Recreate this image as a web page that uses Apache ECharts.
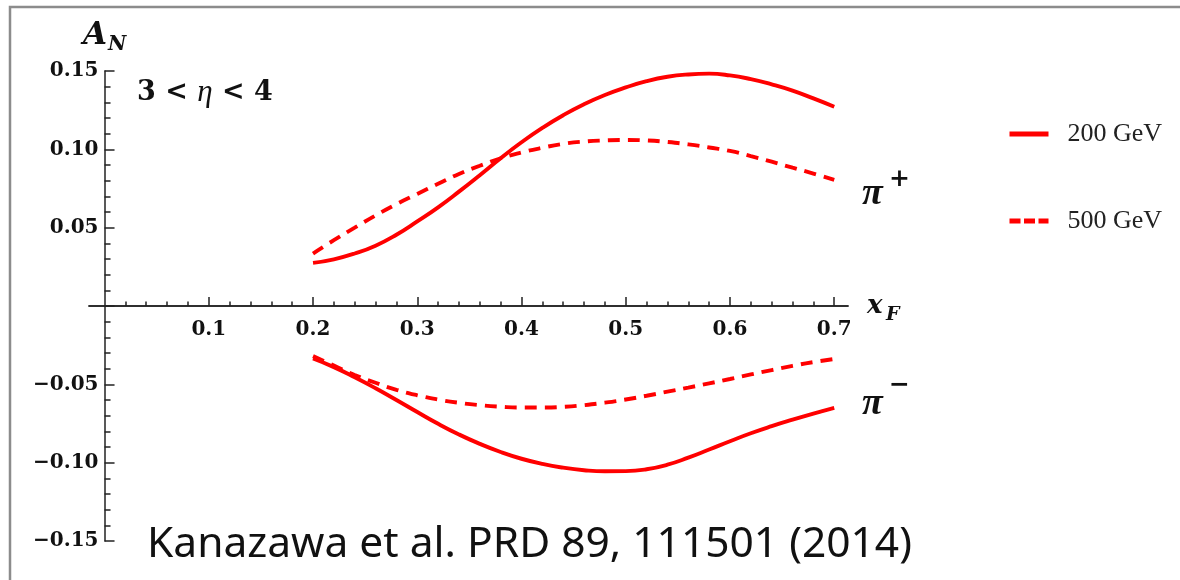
<!DOCTYPE html>
<html>
<head>
<meta charset="utf-8">
<script src="https://cdn.jsdelivr.net/npm/echarts@6/dist/echarts.min.js"></script>
<style>
  html, body { margin: 0; padding: 0; background: #ffffff; }
  #chart { width: 1180px; height: 580px; }
</style>
</head>
<body>
<div id="chart"></div>
<script>
// Feynman-x grid shared by all four curves
const xF = [0.20, 0.22, 0.24, 0.26, 0.28, 0.30, 0.32, 0.34, 0.36, 0.38, 0.40, 0.42, 0.44,
            0.46, 0.48, 0.50, 0.52, 0.54, 0.56, 0.58, 0.60, 0.62, 0.64, 0.66, 0.68, 0.70];

// A_N for pi+ at sqrt(s) = 200 GeV and 500 GeV
const piPlus200 = [0.0275, 0.0298, 0.0335, 0.0385, 0.0455, 0.0540, 0.0630, 0.0730, 0.0835, 0.0943,
                   0.1045, 0.1137, 0.1218, 0.1288, 0.1347, 0.1395, 0.1435, 0.1463, 0.1478, 0.1483,
                   0.1472, 0.1448, 0.1415, 0.1375, 0.1325, 0.1272];
const piPlus500 = [0.0335, 0.0420, 0.0500, 0.0578, 0.0650, 0.0715, 0.0780, 0.0843, 0.0895, 0.0943,
                   0.0980, 0.1010, 0.1035, 0.1050, 0.1057, 0.1060, 0.1057, 0.1047, 0.1032, 0.1012,
                   0.0990, 0.0957, 0.0921, 0.0883, 0.0845, 0.0805];

// A_N for pi- at sqrt(s) = 200 GeV and 500 GeV
const piMinus200 = [-0.0335, -0.0390, -0.0455, -0.0525, -0.0600, -0.0677, -0.0752, -0.0820, -0.0880, -0.0932,
                    -0.0975, -0.1008, -0.1032, -0.1048, -0.1055, -0.1054, -0.1042, -0.1013, -0.0968, -0.0916,
                    -0.0863, -0.0812, -0.0767, -0.0726, -0.0687, -0.0650];
const piMinus500 = [-0.0320, -0.0380, -0.0440, -0.0490, -0.0535, -0.0570, -0.0597, -0.0618, -0.0633, -0.0643,
                    -0.0648, -0.0648, -0.0644, -0.0633, -0.0617, -0.0597, -0.0573, -0.0547, -0.0521, -0.0494,
                    -0.0466, -0.0437, -0.0409, -0.0382, -0.0358, -0.0338];

// Axis ticks
const xMajorTicks = [0.1, 0.2, 0.3, 0.4, 0.5, 0.6, 0.7];
const xMinorTicks = [0.02, 0.04, 0.06, 0.08, 0.12, 0.14, 0.16, 0.18, 0.22, 0.24, 0.26, 0.28,
                     0.32, 0.34, 0.36, 0.38, 0.42, 0.44, 0.46, 0.48, 0.52, 0.54, 0.56, 0.58,
                     0.62, 0.64, 0.66, 0.68];
const xRange = [-0.0149, 0.7132];
const yRange = [-0.15, 0.15];
const yStep = 0.05;

const seriesNames = ['200 GeV', '500 GeV'];
const citation = 'Kanazawa et al. PRD 89, 111501 (2014)';

const RED = '#ff0000';
const INK = '#111111';
const TICK_FONT = '"DejaVu Serif", "Liberation Serif", serif';
const MATH_FONT = '"Liberation Serif", "DejaVu Serif", serif';

const W = 1180, H = 580;
const GRID = { left: 89, right: 332, top: 71, bottom: 39 };

const pairs = (ys) => xF.map((x, i) => [x, ys[i]]);

function curve(name, ys, dashed) {
  return {
    type: 'line',
    name: name,
    xAxisIndex: 0,
    yAxisIndex: 0,
    data: pairs(ys),
    smooth: true,
    showSymbol: false,
    symbol: 'none',
    lineStyle: { color: RED, width: 3.9, type: dashed ? [12, 8] : 'solid', cap: 'butt' },
    itemStyle: { color: RED },
    z: 5
  };
}

const chart = echarts.init(document.getElementById('chart'), null, { renderer: 'canvas' });

const axisLineStyle = { color: '#222', width: 1.5 };

function xAxisBase() {
  return {
    type: 'value',
    min: xRange[0],
    max: xRange[1],
    position: 'bottom',
    offset: 0,
    axisLine: { show: true, onZero: false, lineStyle: axisLineStyle },
    splitLine: { show: false }
  };
}

chart.setOption({
  animation: false,
  backgroundColor: '#ffffff',
  grid: Object.assign({ containLabel: false }, GRID),
  xAxis: [
    Object.assign(xAxisBase(), {
      axisTick: { show: true, inside: true, length: 9, customValues: xMajorTicks, lineStyle: axisLineStyle },
      axisLabel: {
        show: true,
        customValues: xMajorTicks,
        margin: 14,
        formatter: (v) => v.toFixed(1),
        fontFamily: TICK_FONT,
        fontWeight: 'bold',
        fontSize: 20,
        color: INK
      }
    }),
    Object.assign(xAxisBase(), {
      axisTick: { show: true, inside: true, length: 4.5, customValues: xMinorTicks, lineStyle: axisLineStyle },
      axisLabel: { show: false }
    })
  ],
  yAxis: {
    type: 'value',
    min: yRange[0],
    max: yRange[1],
    interval: yStep,
    position: 'left',
    offset: 0,
    axisLine: { show: true, onZero: false, lineStyle: axisLineStyle },
    axisTick: { show: true, inside: true, length: 10, lineStyle: axisLineStyle },
    minorTick: { show: true, splitNumber: 5, length: 6, lineStyle: axisLineStyle },
    axisLabel: {
      margin: 6,
      formatter: (v) => {
        if (Math.abs(v) < 1e-9) return '';
        return (v < 0 ? '\u2212' : '') + Math.abs(v).toFixed(2);
      },
      fontFamily: TICK_FONT,
      fontWeight: 'bold',
      fontSize: 20,
      color: INK
    },
    splitLine: { show: false },
    minorSplitLine: { show: false }
  },
  legend: {
    orient: 'vertical',
    left: 1007,
    top: 121,
    padding: 0,
    itemWidth: 39,
    itemHeight: 14,
    itemGap: 61,
    selectedMode: false,
    itemStyle: { opacity: 0 },
    data: [
      { name: seriesNames[0], lineStyle: { width: 5, type: 'solid' } },
      { name: seriesNames[1], lineStyle: { width: 5, type: [11, 3.5] } }
    ],
    textStyle: {
      fontFamily: MATH_FONT,
      fontSize: 26,
      color: '#222',
      lineHeight: 24,
      padding: [0, 0, 0, 14]
    }
  },
  graphic: [
    {
      type: 'rect',
      silent: true,
      shape: { x: 10, y: 7, width: 1200, height: 600 },
      style: { fill: 'none', stroke: '#8c8c8c', lineWidth: 2.5 },
      z: 0
    },
    {
      type: 'text', left: 83, top: 20, silent: true,
      style: { text: 'A', font: 'italic bold 31px ' + TICK_FONT, fill: INK }
    },
    {
      type: 'text', left: 108, top: 35, silent: true,
      style: { text: 'N', font: 'italic bold 20px ' + TICK_FONT, fill: INK }
    },
    {
      type: 'text', left: 137, top: 77, silent: true,
      style: {
        text: '{n|3 < }{e|\u03b7}{n| < 4}',
        rich: {
          n: { fontFamily: TICK_FONT, fontSize: 27, fontWeight: 'bold', fill: INK },
          e: { fontFamily: MATH_FONT, fontSize: 31, fontStyle: 'italic', fill: INK }
        }
      }
    },
    {
      type: 'text', left: 867, top: 293, silent: true,
      style: { text: 'x', font: 'italic bold 26px ' + TICK_FONT, fill: INK }
    },
    {
      type: 'text', left: 886, top: 306, silent: true,
      style: { text: 'F', font: 'italic bold 19px ' + TICK_FONT, fill: INK }
    },
    {
      type: 'text', left: 862, top: 175, silent: true,
      style: { text: '\u03c0', font: 'italic bold 38px ' + MATH_FONT, fill: INK }
    },
    {
      type: 'text', left: 889, top: 167, silent: true,
      style: { text: '+', font: 'bold 25px ' + TICK_FONT, fill: INK }
    },
    {
      type: 'text', left: 862, top: 385, silent: true,
      style: { text: '\u03c0', font: 'italic bold 38px ' + MATH_FONT, fill: INK }
    },
    {
      type: 'text', left: 889, top: 373, silent: true,
      style: { text: '\u2212', font: 'bold 25px ' + TICK_FONT, fill: INK }
    },
    {
      type: 'text', left: 147, top: 523, silent: true,
      style: {
        text: citation,
        font: '42.5px "Noto Sans", "Open Sans", sans-serif',
        fill: INK
      }
    }
  ],
  series: [
    curve(seriesNames[0], piPlus200, false),
    curve(seriesNames[1], piPlus500, true),
    curve(seriesNames[0], piMinus200, false),
    curve(seriesNames[1], piMinus500, true)
  ]
});

// Put the x axis on A_N = 0 and the y axis on x_F = 0 (labels travel with the axes)
const zeroY = chart.convertToPixel({ yAxisIndex: 0 }, 0);
const zeroX = chart.convertToPixel({ xAxisIndex: 0 }, 0);
const xOffset = -((H - GRID.bottom) - zeroY);
const yOffset = -(zeroX - GRID.left);
chart.setOption({
  xAxis: [{ offset: xOffset }, { offset: xOffset }],
  yAxis: { offset: yOffset }
});
</script>
</body>
</html>
